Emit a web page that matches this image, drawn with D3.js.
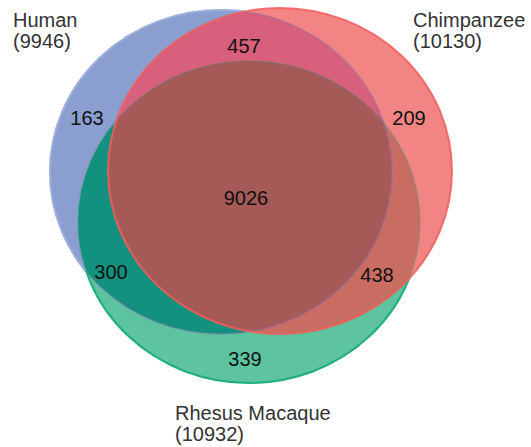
<!DOCTYPE html>
<html><head><meta charset="utf-8">
<script src="https://cdn.jsdelivr.net/npm/d3@7"></script>
<style>body{margin:0;background:#fff}svg{display:block}</style>
</head><body>
<script>
// ---- data ----
const sets = ["Human", "Chimpanzee", "Rhesus Macaque"];
const setTotals = [9946, 10130, 10932];
const regionNames = ["H", "C", "R", "HC", "HR", "CR", "HCR"];
const regionValues = [163, 209, 339, 457, 300, 438, 9026];

// ---- layout (not data) ----
const W = 531, H = 447;
const ell = [
  {cx: 221, cy: 172, rx: 171, ry: 162, fill: "#8a9fcf", stroke: "#9cb0de"},
  {cx: 280, cy: 171, rx: 172, ry: 163, fill: "#f28583", stroke: "#f05e5c"},
  {cx: 249, cy: 222, rx: 171, ry: 161, fill: "#5ec4a0", stroke: "#1fb07c"}
];
const regionColors = {HC: "#d8607c", HR: "#13917f", CR: "#c96c62", HCR: "#a65a58"};
const labelPos = {
  H: [87, 118], C: [409, 118], R: [245, 359], HC: [244, 46],
  HR: [111, 272], CR: [377, 275], HCR: [246, 198]
};
const setLabelPos = [[13, 27], [413, 27], [175, 420]];

const svg = d3.select("body").append("svg").attr("width", W).attr("height", H);
const defs = svg.append("defs");
const ellAttrs = (sel, e) => sel.attr("cx", e.cx).attr("cy", e.cy).attr("rx", e.rx).attr("ry", e.ry);
ell.forEach((e, i) => {
  ellAttrs(defs.append("clipPath").attr("id", "clip" + i).append("ellipse"), e);
});
// masks: outside of given ellipses
function outsideMask(id, idx) {
  const m = defs.append("mask").attr("id", id).attr("maskUnits", "userSpaceOnUse")
    .attr("x", 0).attr("y", 0).attr("width", W).attr("height", H);
  m.append("rect").attr("width", W).attr("height", H).attr("fill", "#fff");
  idx.forEach(i => ellAttrs(m.append("ellipse"), ell[i]).attr("fill", "#000"));
}
outsideMask("outRG", [1, 2]);
outsideMask("outBR", [0, 1]);

const g = svg.append("g");
const drawE = (sel, e, fill) => ellAttrs(sel.append("ellipse"), e).attr("fill", fill);

// single sets
ell.forEach(e => drawE(g, e, e.fill));
// pairwise
drawE(g.append("g").attr("clip-path", "url(#clip0)"), ell[1], regionColors.HC);
drawE(g.append("g").attr("clip-path", "url(#clip0)"), ell[2], regionColors.HR);
drawE(g.append("g").attr("clip-path", "url(#clip1)"), ell[2], regionColors.CR);
// triple
drawE(g.append("g").attr("clip-path", "url(#clip0)").append("g").attr("clip-path", "url(#clip1)"), ell[2], regionColors.HCR);

// outlines
const outl = g.append("g").attr("fill", "none").attr("stroke-width", 2);
// faint inner outlines
ellAttrs(outl.append("ellipse"), ell[0]).attr("stroke", "#8a6fb0").attr("stroke-opacity", 0.35);
ellAttrs(outl.append("ellipse"), ell[2]).attr("stroke", "#3a8a70").attr("stroke-opacity", 0.2);
// strong outer outlines
ellAttrs(outl.append("ellipse"), ell[0]).attr("stroke", ell[0].stroke).attr("mask", "url(#outRG)");
ellAttrs(outl.append("ellipse"), ell[2]).attr("stroke", ell[2].stroke).attr("mask", "url(#outBR)");
ellAttrs(outl.append("ellipse"), ell[1]).attr("stroke", ell[1].stroke).attr("stroke-opacity", 0.85);

// region values
const tg = svg.append("g").attr("font-family", "Liberation Sans, Arial, sans-serif")
  .attr("font-size", 20).attr("fill", "#111");
regionNames.forEach((n, i) => {
  tg.append("text").attr("x", labelPos[n][0]).attr("y", labelPos[n][1])
    .attr("text-anchor", "middle").attr("dominant-baseline", "central")
    .text(regionValues[i]);
});
// set labels
sets.forEach((s, i) => {
  const t = tg.append("text").attr("x", setLabelPos[i][0]).attr("y", setLabelPos[i][1]).attr("fill", "#333");
  t.append("tspan").attr("x", setLabelPos[i][0]).text(s);
  t.append("tspan").attr("x", setLabelPos[i][0]).attr("dy", 21).text("(" + setTotals[i] + ")");
});
</script>
</body></html>
